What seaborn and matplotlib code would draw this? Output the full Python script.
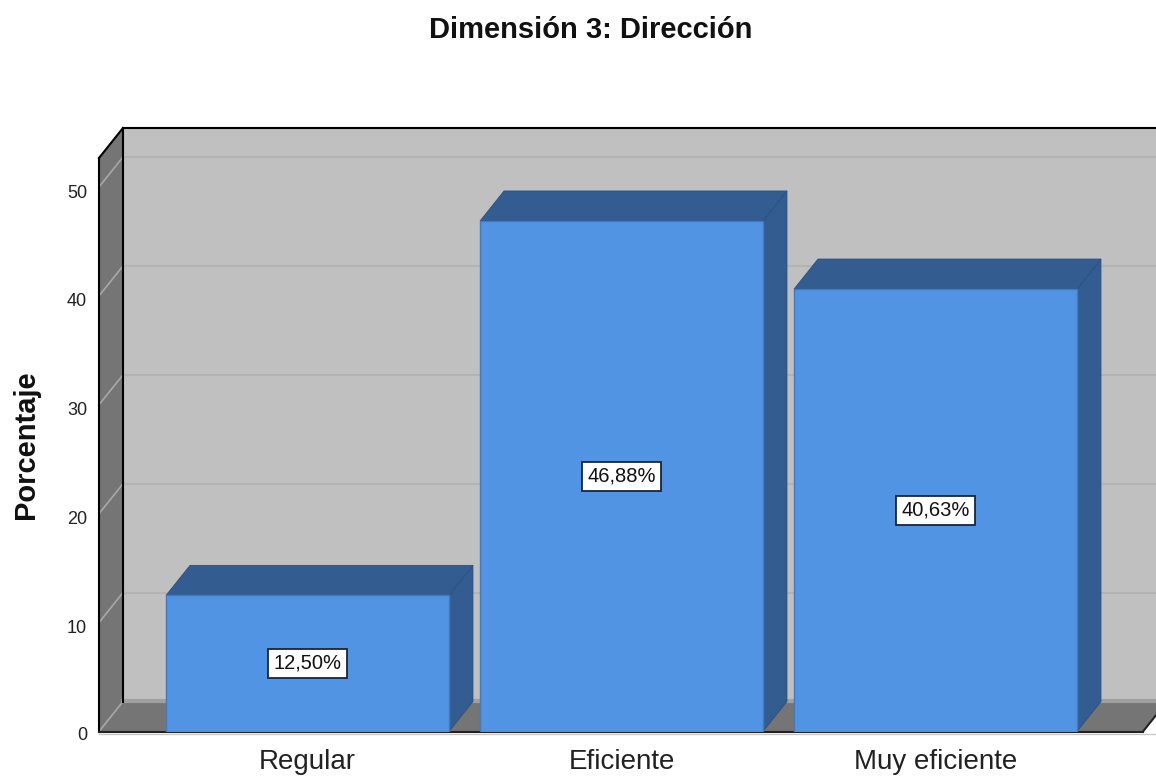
import matplotlib
matplotlib.use("Agg")
import matplotlib.pyplot as plt
import matplotlib.transforms as mtrans
from matplotlib.patches import Polygon
import pandas as pd
import seaborn as sns

categories = ["Regular", "Eficiente", "Muy eficiente"]
percentages = [12.50, 46.88, 40.63]
bar_labels = ["12,50%", "46,88%", "40,63%"]
y_ticks = [0, 10, 20, 30, 40, 50]

FRONT = "#5294E4"
SHADE = "#335C91"
EDGE = "#4479BC"
WALL = "#C0C0C0"
SIDE = "#757575"
GRID = "#B3B3B3"
SIDE_GRID = "#A8A8A8"

W, H = 1156, 776
sns.set_theme(style="white")
plt.rcParams["font.family"] = ["Liberation Sans", "DejaVu Sans"]

fig = plt.figure(figsize=(W / 100, H / 100), dpi=100, facecolor="white")
# Front plane of the chart box, in pixels from the top-left corner
left, right, top, bottom = 99, 1143, 158, 731.5
ax = fig.add_axes([left / W, 1 - bottom / H, (right - left) / W, (bottom - top) / H])

df = pd.DataFrame({"categoria": categories, "porcentaje": percentages})
sns.barplot(data=df, x="categoria", y="porcentaje", color=FRONT, saturation=1,
            width=0.901, edgecolor=EDGE, linewidth=1, ax=ax, zorder=5)

ax.set_xlim(-0.6640, 2.6608)
ax.set_ylim(0, (bottom - top) / 10.89)

# Extrusion vector of the box, converted from pixels to data units
px_x = (ax.get_xlim()[1] - ax.get_xlim()[0]) / (right - left)
px_y = ax.get_ylim()[1] / (bottom - top)
dx, dy = 24 * px_x, 30 * px_y
x0, x1 = ax.get_xlim()
y1 = ax.get_ylim()[1]


def face(points, color, z, edge="none", lw=0):
    ax.add_patch(Polygon(points, closed=True, facecolor=color, edgecolor=edge,
                         linewidth=lw, clip_on=False, zorder=z))


def line(xs, ys, color, lw, z):
    ax.plot(xs, ys, color=color, lw=lw, clip_on=False, zorder=z,
            solid_capstyle="projecting")


# Back wall, left wall and floor
far = x1 + 40 * px_x
face([(x0 + dx, dy), (far, dy), (far, y1 + dy), (x0 + dx, y1 + dy)], WALL, 1)
face([(x0, 0), (x0 + dx, dy), (x0 + dx, y1 + dy), (x0, y1)], SIDE, 1)
face([(x0, 0), (x1, 0), (x1 + dx, dy), (x0 + dx, dy)], SIDE, 1)
line([x0 + dx, far], [dy + 0.5 * px_y] * 2, "#A0A0A0", 3, 2)

# Gridlines across the back wall and down the left wall
for t in y_ticks[1:]:
    line([x0 + dx, far], [t + dy, t + dy], GRID, 1.5, 2)
for t in y_ticks:
    line([x0, x0 + dx], [t, t + dy], SIDE_GRID, 1.2, 2)

# Box outline
line([x0, x0], [0, y1], "black", 1.5, 3)
line([x0 + dx, x0 + dx], [dy, y1 + dy], "black", 1.5, 3)
line([x0, x0 + dx], [y1, y1 + dy], "black", 1.5, 3)
line([x0 + dx, far], [y1 + dy, y1 + dy], "black", 1.5, 3)
line([x0, x1], [0, 0], "#222222", 1.5, 3)
line([x1, x1 + dx], [0, dy], "#222222", 1.5, 3)
line([x0, x1 + dx], [-2 * px_y, -2 * px_y], "#C8C8C8", 1, 2)

# Side and top faces of each bar, plus its value box
for bar, text in zip(ax.patches, bar_labels):
    bx, bw, bh = bar.get_x(), bar.get_width(), bar.get_height()
    face([(bx + bw, 0), (bx + bw + dx, dy), (bx + bw + dx, bh + dy), (bx + bw, bh)],
         SHADE, 4, "#2C5080", 0.6)
    face([(bx, bh), (bx + bw, bh), (bx + bw + dx, bh + dy), (bx + dx, bh + dy)],
         SHADE, 4, "#2C5080", 0.6)
    ax.text(bx + bw / 2, bh / 2, text, ha="center", va="center", fontsize=14.5,
            color="#111111", zorder=7,
            bbox=dict(boxstyle="square,pad=0.25", facecolor="white",
                      edgecolor="#18263A", linewidth=1.3))

sns.despine(ax=ax, left=True, bottom=True, top=True, right=True)
ax.set_yticks(y_ticks)
ax.set_yticklabels([str(t) for t in y_ticks], fontsize=13, color="#222222")
ax.tick_params(axis="y", length=0, pad=8.5)
ax.tick_params(axis="x", length=0, pad=12.5, labelsize=20, labelcolor="#222222")
for t, lab in zip(y_ticks, ax.get_yticklabels()):
    drop = 2 if t == 0 else 4
    lab.set_transform(lab.get_transform()
                      + mtrans.ScaledTranslation(0, -drop / 100, fig.dpi_scale_trans))

ax.set_xlabel("")
ax.set_ylabel("")
fig.text(26 / W, 1 - 445 / H, "Porcentaje", rotation=90, ha="center", va="center",
         fontsize=21, fontweight="bold", color="#111111")
fig.text(591 / W, 1 - 30 / H, "Dimensión 3: Dirección", ha="center", va="center",
         fontsize=21, fontweight="bold", color="#111111")

fig.savefig("out.png", dpi=100, facecolor="white")
